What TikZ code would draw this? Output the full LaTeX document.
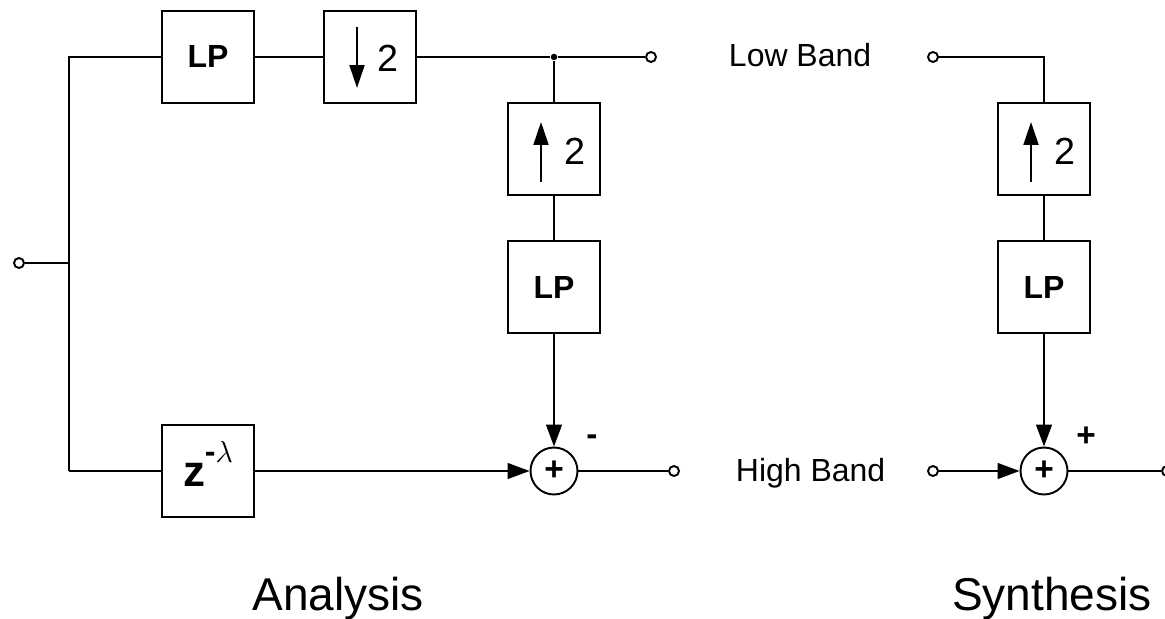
\documentclass[tikz,border=0pt]{standalone}
\usepackage{fontspec}
\setmainfont{Liberation Sans}
\usetikzlibrary{arrows.meta, calc}

\tikzset{
    blk/.style={draw, line width=1.1pt, minimum size=1.84cm, inner sep=0pt, font=\bfseries\fontsize{18.2}{20}\selectfont},
    term/.style={circle, draw, line width=1.1pt, fill=white, minimum size=0.2cm, inner sep=0pt},
    sumnode/.style={circle, draw, line width=1.1pt, minimum size=0.94cm, inner sep=0pt, font=\bfseries\fontsize{19}{20}\selectfont},
    lbl/.style={inner sep=0pt, font=\fontsize{18.2}{20}\selectfont},
    sign/.style={inner sep=0pt, font=\bfseries\fontsize{19}{20}\selectfont},
    title/.style={inner sep=0pt, font=\fontsize{26.2}{30}\selectfont},
    sig/.style={-{Triangle[length=12.5pt, width=9pt]}},
    rate/.style={-{Triangle[length=13pt, width=8.5pt]}}
}

\begin{document}
\begin{tikzpicture}[x=0.02cm, y=-0.02cm, line width=1.1pt]
\useasboundingbox (0,0) rectangle (1165,618);

% analysis
\node[term] (in) at (19,263) {};
\coordinate (ij) at (69,263);
\coordinate (tl) at (69,57);
\coordinate (bl) at (69,471);
\node[blk] (lp0) at (208,57) {LP};
\node[blk] (dn) at (370,57) {};
\draw[rate] ($(dn)+(-13,-30)$) -- ($(dn)+(-13,31)$);
\node[lbl, font=\fontsize{21.5}{24}\selectfont] (dntwo) at ($(dn)+(18,1)$) {2};
\node[circle, fill, inner sep=0pt, minimum size=0.13cm] (jn) at (554,57) {};
\node[term] (lbo) at (651,57) {};
\node[blk, text depth=0.3cm] (zd) at (208,471)
    {{\fontsize{25}{26}\selectfont z}\raisebox{13.7pt}{-{\fontsize{19}{20}\selectfont$\lambda$}}};

% columns
\foreach \xc/\id in {554/a, 1044/b} {
    \node[blk] (up\id) at (\xc,149) {};
    \draw[rate] ($(up\id)+(-13,33)$) -- ($(up\id)+(-13,-27)$);
    \node[lbl, font=\fontsize{21.5}{24}\selectfont] (uptwo\id) at ($(up\id)+(21,2)$) {2};
    \node[blk] (lp\id) at (\xc,287) {LP};
    \node[sumnode] (sum\id) at (\xc,471) {+};
    \draw (up\id) -- (lp\id);
    \draw[sig] (lp\id) -- (sum\id);
}

\draw (in) -- (ij);
\draw (bl) -- (tl) -- (lp0) -- (dn) -- (jn) -- (lbo);
\draw (jn) -- (upa);
\draw (bl) -- (zd);
\draw[sig] (zd) -- (suma);
\node[term] (hbo) at (674,471) {};
\draw (suma) -- (hbo);
\node[sign] (minus) at (592,440) {-};

\node[lbl, anchor=base west] (lowband) at (728,67) {Low Band};
\node[lbl, anchor=base west] (highband) at (735,481) {High Band};

% synthesis
\node[term] (lbi) at (933,57) {};
\coordinate (sc) at (1044,57);
\draw (lbi) -- (sc) -- (upb);
\node[term] (hbi) at (933,471) {};
\draw[sig] (hbi) -- (sumb);
\node[term] (out) at (1167,471) {};
\draw (sumb) -- (out);
\node[sign] (plus) at (1086,437) {+};

\node[title, anchor=base] (analysis) at (338,610) {Analysis};
\node[title, anchor=base] (synthesis) at (1052,610) {Synthesis};
\end{tikzpicture}
\end{document}
